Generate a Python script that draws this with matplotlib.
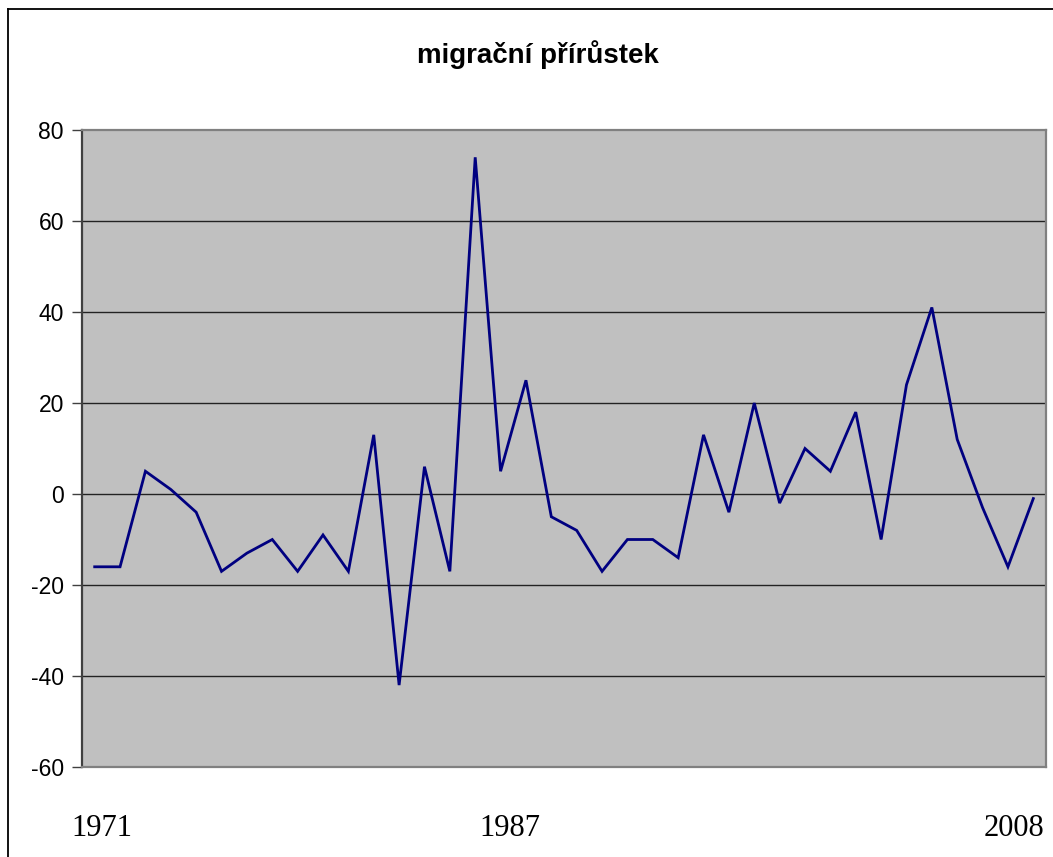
import matplotlib
matplotlib.use('Agg')
import matplotlib.pyplot as plt
from matplotlib.lines import Line2D
from matplotlib.ticker import FuncFormatter
import numpy as np

years = list(range(1971, 2009))
values = [-16, -16, 5, 1, -4, -17, -13, -10, -17, -9,
          -17, 13, -42, 6, -17, 74, 5, 25, -5, -8,
          -17, -10, -10, -14, 13, -4, 20, -2, 10, 5,
          18, -10, 24, 41, 12, -3, -16, -1]
year_labels = ['1971', '1987', '2008']
title = 'migrační přírůstek'

W, H = 1053, 857
fig = plt.figure(figsize=(W/100, H/100), dpi=100)
fig.patch.set_facecolor('white')

ax = fig.add_axes([82/W, 1-767/H, (1046-82)/W, (767-130)/H])
ax.set_facecolor('#c0c0c0')

x = np.arange(len(values))
ax.plot(x, values, color='#000080', lw=2.0, solid_joinstyle='miter')

ax.set_xlim(-0.5, len(values)-0.5)
ax.set_ylim(-60, 80)
ax.set_yticks(range(-60, 81, 20))
ax.yaxis.set_major_formatter(FuncFormatter(lambda v, p: '%d' % v))
ax.set_xticks([])
for v in range(-40, 80, 20):
    ax.axhline(v, color='#222222', lw=1.0, zorder=1)

ax.spines['left'].set_color('#404040')
ax.spines['left'].set_linewidth(1.6)
for s in ['right', 'bottom', 'top']:
    ax.spines[s].set_color('#808080')
    ax.spines[s].set_linewidth(1.6)

ax.tick_params(axis='y', direction='out', length=7, width=1, color='#404040',
               labelsize=16.5, pad=6)
for lbl in ax.get_yticklabels():
    lbl.set_family(['Liberation Sans', 'DejaVu Sans'])

fig.text(538/W, 1-55/H, title, ha='center', va='center', fontsize=20,
         fontweight='bold', family=['Liberation Sans', 'DejaVu Sans'])

label_px = [102, 510, 1014]
for lab, px in zip(year_labels, label_px):
    fig.text(px/W, 1-829/H, lab, ha='center', va='center', fontsize=22,
             family=['Liberation Serif', 'DejaVu Serif'])

# outer chart border (left and top visible)
fig.add_artist(Line2D([8/W, 8/W], [0, 1-9/H], color='black', lw=1.3,
                      transform=fig.transFigure))
fig.add_artist(Line2D([8/W, 1], [1-9/H, 1-9/H], color='black', lw=1.3,
                      transform=fig.transFigure))

fig.savefig('out.png', dpi=100)
